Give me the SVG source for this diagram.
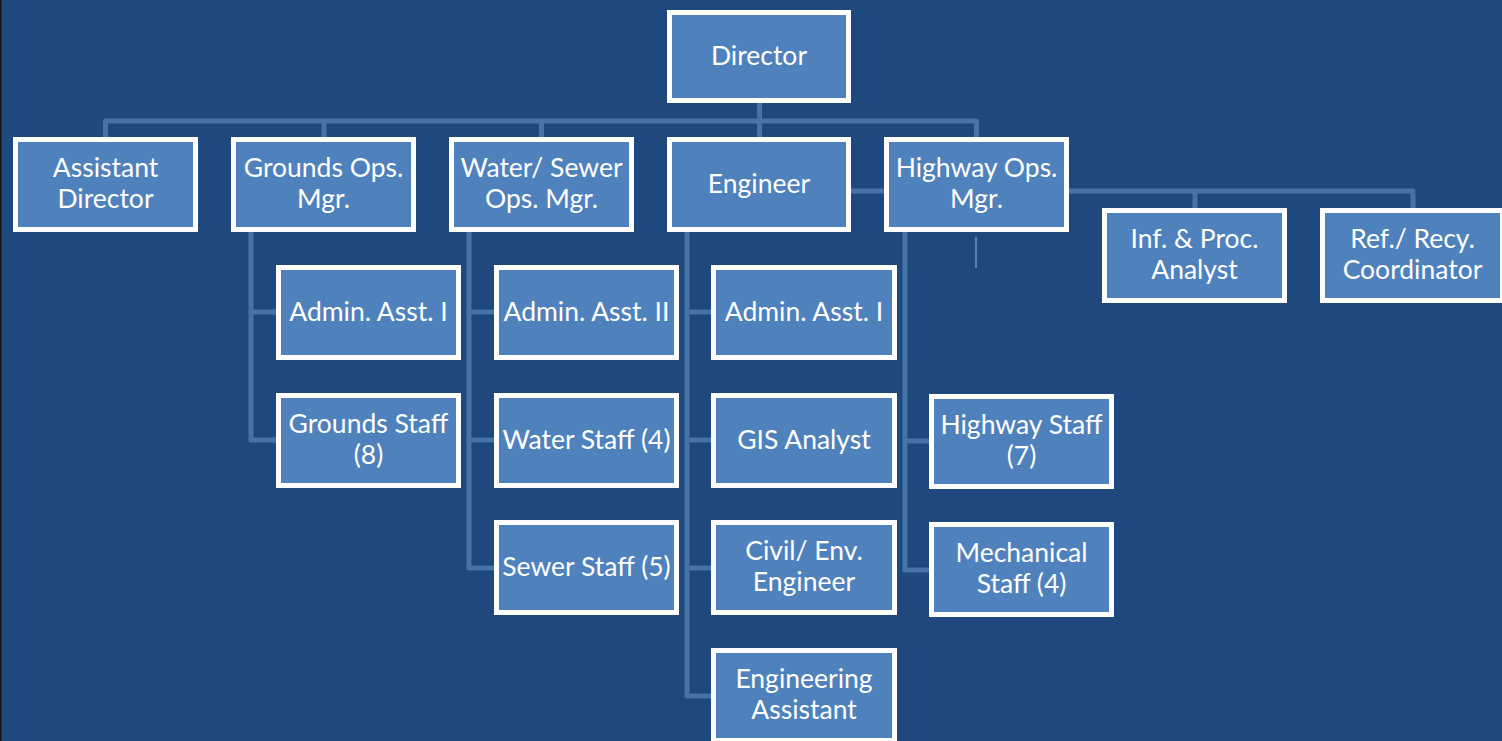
<svg xmlns="http://www.w3.org/2000/svg" width="1502" height="741" viewBox="0 0 1502 741">
<style>
.bg{fill:#1F497D}
.box{fill:#4F81BD;stroke:#FFFFFF;stroke-width:5}
.t{font-family:Lato,"Liberation Sans",sans-serif;font-size:26.5px;fill:#FFFFFF;text-anchor:middle}
.c{fill:none;stroke:#4673AA;stroke-width:5;stroke-linejoin:round}
</style>
<rect class="bg" x="0" y="0" width="1502" height="741"/>
<rect x="0" y="0" width="1.5" height="741" fill="#151515"/>
<g id="connectors">
<path class="c" d="M759.5,103 V137"/>
<path class="c" d="M105.5,137 V121 H976.5 V137"/>
<path class="c" d="M324,121 V137 M541.5,121 V137"/>
<path class="c" d="M851,191 H1413 V208 M1195,191 V208"/>
<path class="c" d="M251,232 V440 H276 M251,312 H276"/>
<path class="c" d="M469,232 V568 H494 M469,312 H494 M469,440 H494"/>
<path class="c" d="M687,232 V696 H711 M687,312 H711 M687,440 H711 M687,568 H711"/>
<path class="c" d="M905,232 V570 H929 M905,441 H929"/>
<path d="M976,237 V268" stroke="#4F81BD" stroke-width="2"/>
</g>
<g id="director"><rect class="box" x="669.5" y="12.5" width="179" height="88"/><text class="t" x="759" y="65">Director</text></g>
<g id="assistant-director"><rect class="box" x="15.5" y="139.5" width="180" height="90"/><text class="t" x="105.5" y="177">Assistant</text><text class="t" x="105.5" y="208">Director</text></g>
<g id="grounds-ops"><rect class="box" x="233.5" y="139.5" width="180" height="90"/><text class="t" x="323.5" y="177">Grounds Ops.</text><text class="t" x="323.5" y="208">Mgr.</text></g>
<g id="water-sewer-ops"><rect class="box" x="451.5" y="139.5" width="180" height="90"/><text class="t" x="541.5" y="177">Water/ Sewer</text><text class="t" x="541.5" y="208">Ops. Mgr.</text></g>
<g id="engineer"><rect class="box" x="669.5" y="139.5" width="179" height="90"/><text class="t" x="759" y="193">Engineer</text></g>
<g id="highway-ops"><rect class="box" x="886.5" y="139.5" width="180" height="90"/><text class="t" x="976.5" y="177">Highway Ops.</text><text class="t" x="976.5" y="208">Mgr.</text></g>
<g id="inf-proc"><rect class="box" x="1104.5" y="210.5" width="180" height="90"/><text class="t" x="1194.5" y="248">Inf. &amp; Proc.</text><text class="t" x="1194.5" y="279">Analyst</text></g>
<g id="ref-recy"><rect class="box" x="1322.5" y="210.5" width="180" height="90"/><text class="t" x="1412.5" y="248">Ref./ Recy.</text><text class="t" x="1412.5" y="279">Coordinator</text></g>
<g id="g-admin"><rect class="box" x="278.5" y="267.5" width="180" height="90"/><text class="t" x="368.5" y="321">Admin. Asst. I</text></g>
<g id="g-staff"><rect class="box" x="278.5" y="395.5" width="180" height="90"/><text class="t" x="368.5" y="433">Grounds Staff</text><text class="t" x="368.5" y="464">(8)</text></g>
<g id="w-admin"><rect class="box" x="496.5" y="267.5" width="180" height="90"/><text class="t" x="586.5" y="321">Admin. Asst. II</text></g>
<g id="w-staff"><rect class="box" x="496.5" y="395.5" width="180" height="90"/><text class="t" x="586.5" y="449">Water Staff (4)</text></g>
<g id="s-staff"><rect class="box" x="496.5" y="522.5" width="180" height="90"/><text class="t" x="586.5" y="576">Sewer Staff (5)</text></g>
<g id="e-admin"><rect class="box" x="713.5" y="267.5" width="181" height="90"/><text class="t" x="804" y="321">Admin. Asst. I</text></g>
<g id="gis"><rect class="box" x="713.5" y="395.5" width="181" height="90"/><text class="t" x="804" y="449">GIS Analyst</text></g>
<g id="civil"><rect class="box" x="713.5" y="522.5" width="181" height="90"/><text class="t" x="804" y="560">Civil/ Env.</text><text class="t" x="804" y="591">Engineer</text></g>
<g id="eng-asst"><rect class="box" x="713.5" y="650.5" width="181" height="90"/><text class="t" x="804" y="688">Engineering</text><text class="t" x="804" y="719">Assistant</text></g>
<g id="h-staff"><rect class="box" x="931.5" y="396.5" width="180" height="90"/><text class="t" x="1021.5" y="434">Highway Staff</text><text class="t" x="1021.5" y="465">(7)</text></g>
<g id="m-staff"><rect class="box" x="931.5" y="524.5" width="180" height="90"/><text class="t" x="1021.5" y="562">Mechanical</text><text class="t" x="1021.5" y="593">Staff (4)</text></g>
</svg>
